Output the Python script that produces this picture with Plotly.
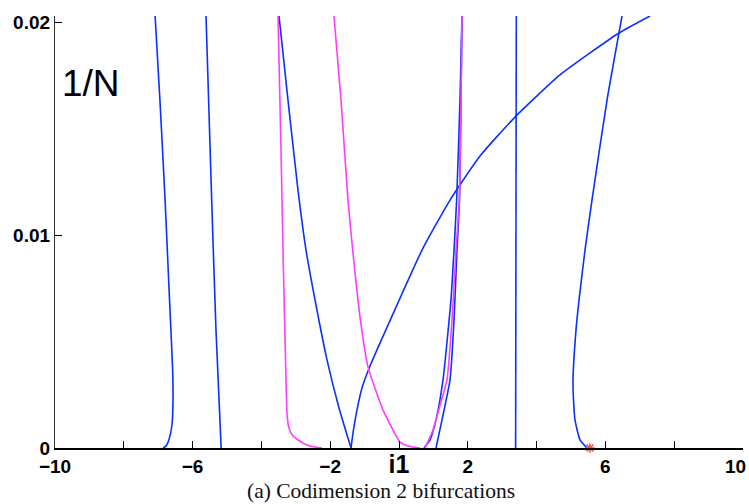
import plotly.graph_objects as go

# ---- data (x = parameter, y = 1/N) ----
blue_a_x = [-6.86, -6.77, -6.69, -6.60, -6.57, -6.58, -6.67, -6.80, -6.95, -7.09]
blue_a_y = [0.0, 0.0001, 0.00038, 0.00108, 0.00226, 0.00367, 0.00695, 0.01165, 0.01635, 0.0203]

blue_b_x = [-5.17, -5.32, -5.445, -5.61]
blue_b_y = [0.0, 0.00554, 0.01165, 0.0203]

mag_c_x = [-2.24, -2.53, -2.79, -3.08, -3.20, -3.256, -3.285, -3.372, -3.43, -3.517]
mag_c_y = [0.0, 0.00007, 0.00023, 0.00056, 0.00094, 0.00164, 0.0032, 0.0093, 0.0140, 0.0203]

blue_d_x = [-1.395, -1.744, -2.093, -2.413, -2.703, -2.936, -3.227, -3.488]
blue_d_y = [0.0, 0.00188, 0.00414, 0.00672, 0.0093, 0.01212, 0.01635, 0.0203]

blue_f_x = [-1.395, -1.337, -1.221, -1.076, -0.843, -0.174, 0.669, 1.483, 2.355, 3.372, 4.68, 6.395, 7.297]
blue_f_y = [0.0, 0.000705, 0.00179, 0.00282, 0.00385, 0.0063, 0.0093, 0.01165, 0.01372, 0.01555, 0.01753, 0.0195, 0.0203]

mag_e_x = [-1.890, -1.686, -1.483, -1.346, -1.134, -0.901, -0.465, -0.203, 0.029, 0.32, 0.61]
mag_e_y = [0.0203, 0.01635, 0.01165, 0.0093, 0.00616, 0.00381, 0.00179, 0.00094, 0.00028, 0.00007, 0.0]

blue_r1_x = [0.727, 0.901, 1.076, 1.279, 1.51, 1.599, 1.676, 1.773, 1.831]
blue_r1_y = [0.0, 0.00038, 0.00132, 0.0032, 0.00695, 0.0093, 0.01165, 0.01635, 0.0203]

mag_r2_x = [0.756, 0.988, 1.19, 1.395, 1.541, 1.657, 1.753, 1.802, 1.831]
mag_r2_y = [0.0, 0.00085, 0.002, 0.0032, 0.006, 0.0093, 0.01165, 0.01635, 0.0203]

blue_r3_x = [1.076, 1.25, 1.483, 1.599, 1.686, 1.759, 1.802, 1.831]
blue_r3_y = [0.0, 0.00132, 0.0032, 0.006, 0.0093, 0.01165, 0.01635, 0.0203]

blue_g_x = [3.39, 3.41]
blue_g_y = [0.0, 0.0203]

blue_h_x = [5.465, 5.262, 5.116, 5.073, 5.058, 5.145, 5.233, 5.407, 5.61, 6.047, 6.483]
blue_h_y = [0.0, 0.00038, 0.00132, 0.00226, 0.0032, 0.00554, 0.00695, 0.0093, 0.01165, 0.01635, 0.0203]

star_x = [5.55]
star_y = [0.0]

x_tickvals = [-10, -8, -6, -4, -2, 0, 2, 4, 6, 8, 10]
x_ticktext = ["\u221210", "", "\u22126", "", "\u22122",
              "<span style='font-size:25px'>i1</span>", "2", "", "6", "", "10"]
y_tickvals = [0, 0.01, 0.02]
y_ticktext = ["0", "0.01", "0.02"]

BLUE = "#0a32ff"
MAG = "#ff3cff"

fig = go.Figure()

def add(x, y, color):
    fig.add_trace(go.Scatter(x=x, y=y, mode="lines",
                             line=dict(color=color, width=1.6, shape="spline", smoothing=0.5),
                             showlegend=False, hoverinfo="skip"))

add(blue_a_x, blue_a_y, BLUE)
add(blue_b_x, blue_b_y, BLUE)
add(blue_d_x, blue_d_y, BLUE)
add(mag_c_x, mag_c_y, MAG)
add(blue_f_x, blue_f_y, BLUE)
add(mag_e_x, mag_e_y, MAG)
add(blue_r1_x, blue_r1_y, BLUE)
add(blue_r3_x, blue_r3_y, BLUE)
add(mag_r2_x, mag_r2_y, MAG)
add(blue_g_x, blue_g_y, BLUE)
add(blue_h_x, blue_h_y, BLUE)

fig.add_trace(go.Scatter(x=star_x, y=star_y, mode="markers",
                         marker=dict(symbol="asterisk-open", size=8,
                                     line=dict(color="#ff2a00", width=1.5)),
                         cliponaxis=False, showlegend=False, hoverinfo="skip"))

tick_font = dict(family="Liberation Sans", size=19, color="black", weight="bold")

# the last x tick label sits flush with the right edge; draw it as an annotation
shown_ticktext = x_ticktext[:-1] + [""]

fig.update_layout(
    width=749, height=504,
    margin=dict(l=55, r=6, t=16, b=56, autoexpand=False),
    paper_bgcolor="white", plot_bgcolor="white",
    xaxis=dict(range=[-10, 10], tickmode="array", tickvals=x_tickvals, ticktext=shown_ticktext,
               ticks="inside", ticklen=7, tickwidth=1, tickcolor="black",
               showline=True, linecolor="black", linewidth=1.5,
               showgrid=False, zeroline=False, tickfont=tick_font,
               ticklabeloverflow="allow", automargin=False, ticklabelstandoff=0),
    yaxis=dict(range=[0, 0.0203], tickmode="array", tickvals=y_tickvals, ticktext=y_ticktext,
               ticks="inside", ticklen=7, tickwidth=1, tickcolor="black",
               showline=True, linecolor="#333333", linewidth=1.2,
               showgrid=False, zeroline=False, tickfont=tick_font,
               ticklabeloverflow="allow", automargin=False),
    annotations=[
        dict(text=x_ticktext[-1], xref="paper", yref="paper", x=(748 - 55) / 688,
             y=-0.042, xanchor="right", yanchor="middle", showarrow=False,
             font=tick_font),
        dict(text="1/N", xref="paper", yref="paper", x=0.0073, y=0.8426,
             xanchor="left", yanchor="middle", showarrow=False,
             font=dict(family="Liberation Sans", size=37, color="black")),
        dict(text="(a) Codimension 2 bifurcations", xref="paper", yref="paper",
             x=(380.5 - 55) / 688, y=-0.1285, xanchor="center", yanchor="bottom",
             showarrow=False, borderpad=0,
             font=dict(family="Liberation Serif", size=21.5, color="#111111")),
    ],
)

fig.write_html("out.html")
